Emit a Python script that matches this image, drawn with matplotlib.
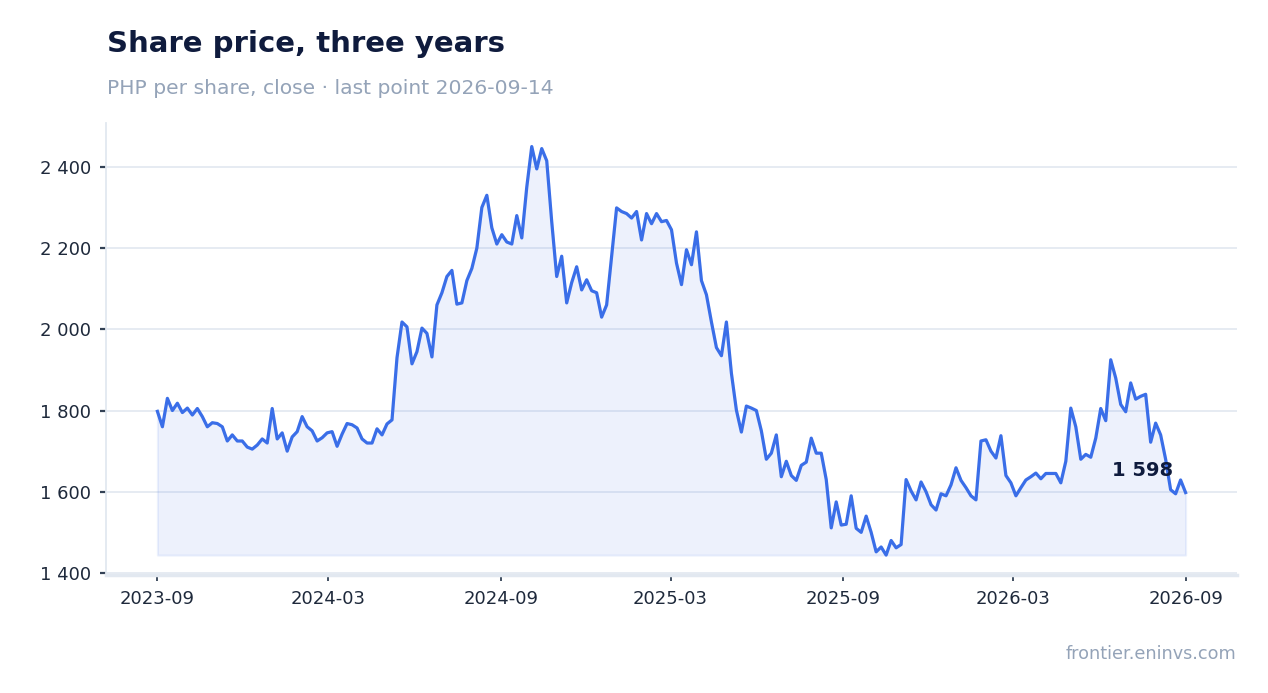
import matplotlib
matplotlib.use("Agg")
import matplotlib.pyplot as plt
import pandas as pd
import numpy as np

# ---- data ----
start_date = "2023-09-14"
end_date = "2026-09-14"
closes = [
    1798, 1760, 1830, 1800, 1818, 1795, 1806, 1789, 1805, 1785,
    1760, 1770, 1768, 1760, 1725, 1740, 1725, 1725, 1710, 1705,
    1715, 1730, 1720, 1805, 1730, 1745, 1700, 1735, 1748, 1785,
    1760, 1750, 1725, 1733, 1745, 1748, 1712, 1742, 1768, 1765,
    1757, 1730, 1720, 1720, 1755, 1740, 1767, 1777, 1930, 2018,
    2006, 1915, 1945, 2003, 1990, 1932, 2060, 2090, 2130, 2145,
    2062, 2065, 2120, 2150, 2200, 2300, 2330, 2250, 2210, 2233,
    2215, 2210, 2280, 2225, 2350, 2450, 2395, 2445, 2415, 2265,
    2130, 2180, 2065, 2115, 2154, 2097, 2122, 2095, 2090, 2030,
    2060, 2180, 2299, 2290, 2285, 2274, 2290, 2220, 2285, 2260,
    2285, 2265, 2268, 2245, 2163, 2110, 2196, 2159, 2240, 2120,
    2085, 2018, 1955, 1935, 2018, 1892, 1801, 1747, 1811, 1806,
    1800, 1750, 1680, 1695, 1740, 1637, 1675, 1640, 1628, 1665,
    1673, 1732, 1695, 1695, 1630, 1511, 1575, 1518, 1520, 1590,
    1510, 1500, 1540, 1500, 1452, 1464, 1444, 1480, 1462, 1470,
    1630, 1602, 1580, 1624, 1600, 1568, 1555, 1595, 1590, 1617,
    1659, 1628, 1610, 1590, 1580, 1725, 1728, 1700, 1683, 1738,
    1640, 1622, 1590, 1610, 1629, 1637, 1646, 1632, 1645, 1645,
    1645, 1622, 1675, 1806, 1760, 1680, 1692, 1685, 1732, 1805,
    1775, 1925, 1880, 1815, 1797, 1868, 1828, 1835, 1840, 1722,
    1769, 1740, 1680, 1605, 1595, 1629, 1598,
]
y_ticks = [1400, 1600, 1800, 2000, 2200, 2400]
title = "Share price, three years"
subtitle = "PHP per share, close \u00b7 last point 2026-09-14"
footer = "frontier.eninvs.com"

dates = pd.date_range(start_date, end_date, periods=len(closes))
x_ticks = pd.date_range(start_date, end_date, freq=pd.DateOffset(months=6))

LINE = "#3a6ee8"
NAVY = "#0f1b3d"
MUTED = "#94a3b8"
GRID = "#e2e8f0"
TICK = "#334155"
LABEL = "#1e293b"

plt.rcParams["font.family"] = ["DejaVu Sans"]

fig = plt.figure(figsize=(12.68, 6.93), dpi=100)
ax = fig.add_axes([106 / 1268, 1 - 575 / 693, (1237 - 106) / 1268, (575 - 123) / 693])

vals = np.array(closes, dtype=float)
ax.fill_between(dates, vals, vals.min(), color=LINE, alpha=0.09, linewidth=1.5)
ax.plot(dates, vals, color=LINE, linewidth=2.3, solid_joinstyle="round")

ax.set_ylim(1395, 2508)
ax.margins(x=0.05)
ax.set_yticks(y_ticks)
ax.set_yticklabels([f"{v:,}".replace(",", " ") for v in y_ticks])
ax.set_xticks(x_ticks)
ax.set_xticklabels([d.strftime("%Y-%m") for d in x_ticks])

ax.grid(axis="y", color=GRID, linewidth=1.2)
ax.set_axisbelow(True)
for s in ["top", "right"]:
    ax.spines[s].set_visible(False)
ax.spines["left"].set_color(GRID)
ax.spines["left"].set_linewidth(1.3)
ax.spines["bottom"].set_color(GRID)
ax.spines["bottom"].set_linewidth(2.5)

ax.tick_params(axis="y", length=4.5, width=1.6, color=TICK, labelsize=13,
               labelcolor=LABEL, pad=6)
ax.tick_params(axis="x", length=4.5, width=1.3, color=TICK, labelsize=13,
               labelcolor=LABEL, pad=6)

ax.annotate(f"{closes[-1]:,}".replace(",", " "), xy=(dates[-1], closes[-1]),
            xytext=(-9, 16), textcoords="offset points", ha="right", va="center",
            fontsize=14, fontweight="bold", color=NAVY)

fig.text(107 / 1268, 1 - 52 / 693, title, fontsize=21, fontweight="bold",
         color=NAVY, ha="left", va="baseline")
fig.text(107 / 1268, 1 - 94 / 693, subtitle, fontsize=14.6, color=MUTED,
         ha="left", va="baseline")
fig.text(1236 / 1268, 1 - 659 / 693, footer, fontsize=12.7, color=MUTED,
         ha="right", va="baseline")

fig.savefig("out.png", dpi=100)
